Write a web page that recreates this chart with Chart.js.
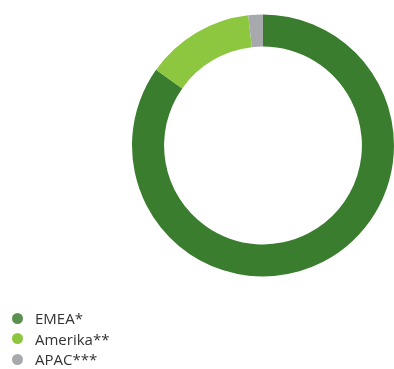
<!DOCTYPE html>
<html>
<head>
<meta charset="utf-8">
<script src="https://cdn.jsdelivr.net/npm/chart.js@4.4.0/dist/chart.umd.min.js"></script>
<style>
  html, body { margin: 0; padding: 0; background: #fff; }
  #wrap { position: relative; width: 394px; height: 369px; }
  #legend { position: absolute; left: 12px; top: 308px; margin: 0; padding: 0; list-style: none;
            font-family: "Open Sans", sans-serif; font-size: 15px; color: #333; }
  #legend li { display: flex; align-items: center; height: 20.5px; }
  #legend .dot { width: 11px; height: 11px; border-radius: 50%; margin-right: 12px; }
</style>
</head>
<body>
<div id="wrap">
  <canvas id="regions" width="394" height="369"></canvas>
  <ul id="legend"></ul>
</div>
<script>
const regions = ['EMEA*', 'Amerika**', 'APAC***'];
const shares = [84.8, 13.4, 1.8];
const sliceColors = ['#3a7d2e', '#8dc63f', '#a7a9ac'];
const legendColors = ['#5b9150', '#8dc63f', '#a7a9ac'];

// list legend, filled from the chart's own legend items
const htmlLegend = {
    id: 'htmlLegend',
    afterUpdate(chart) {
        const list = document.getElementById('legend');
        list.innerHTML = '';
        chart.legend.legendItems.forEach((item) => {
            const li = document.createElement('li');
            const dot = document.createElement('span');
            dot.className = 'dot';
            dot.style.background = legendColors[item.index];
            li.appendChild(dot);
            li.appendChild(document.createTextNode(item.text));
            list.appendChild(li);
        });
    }
};

new Chart(document.getElementById('regions'), {
    type: 'doughnut',
    data: {
        labels: regions,
        datasets: [{
            data: shares,
            backgroundColor: sliceColors,
            borderWidth: 0
        }]
    },
    options: {
        responsive: false,
        animation: false,
        cutout: '75.5%',
        layout: {
            padding: { left: 132, top: 14, right: 0, bottom: 92 }
        },
        plugins: {
            legend: { display: false },
            tooltip: { enabled: false }
        }
    },
    plugins: [htmlLegend]
});
</script>
</body>
</html>
